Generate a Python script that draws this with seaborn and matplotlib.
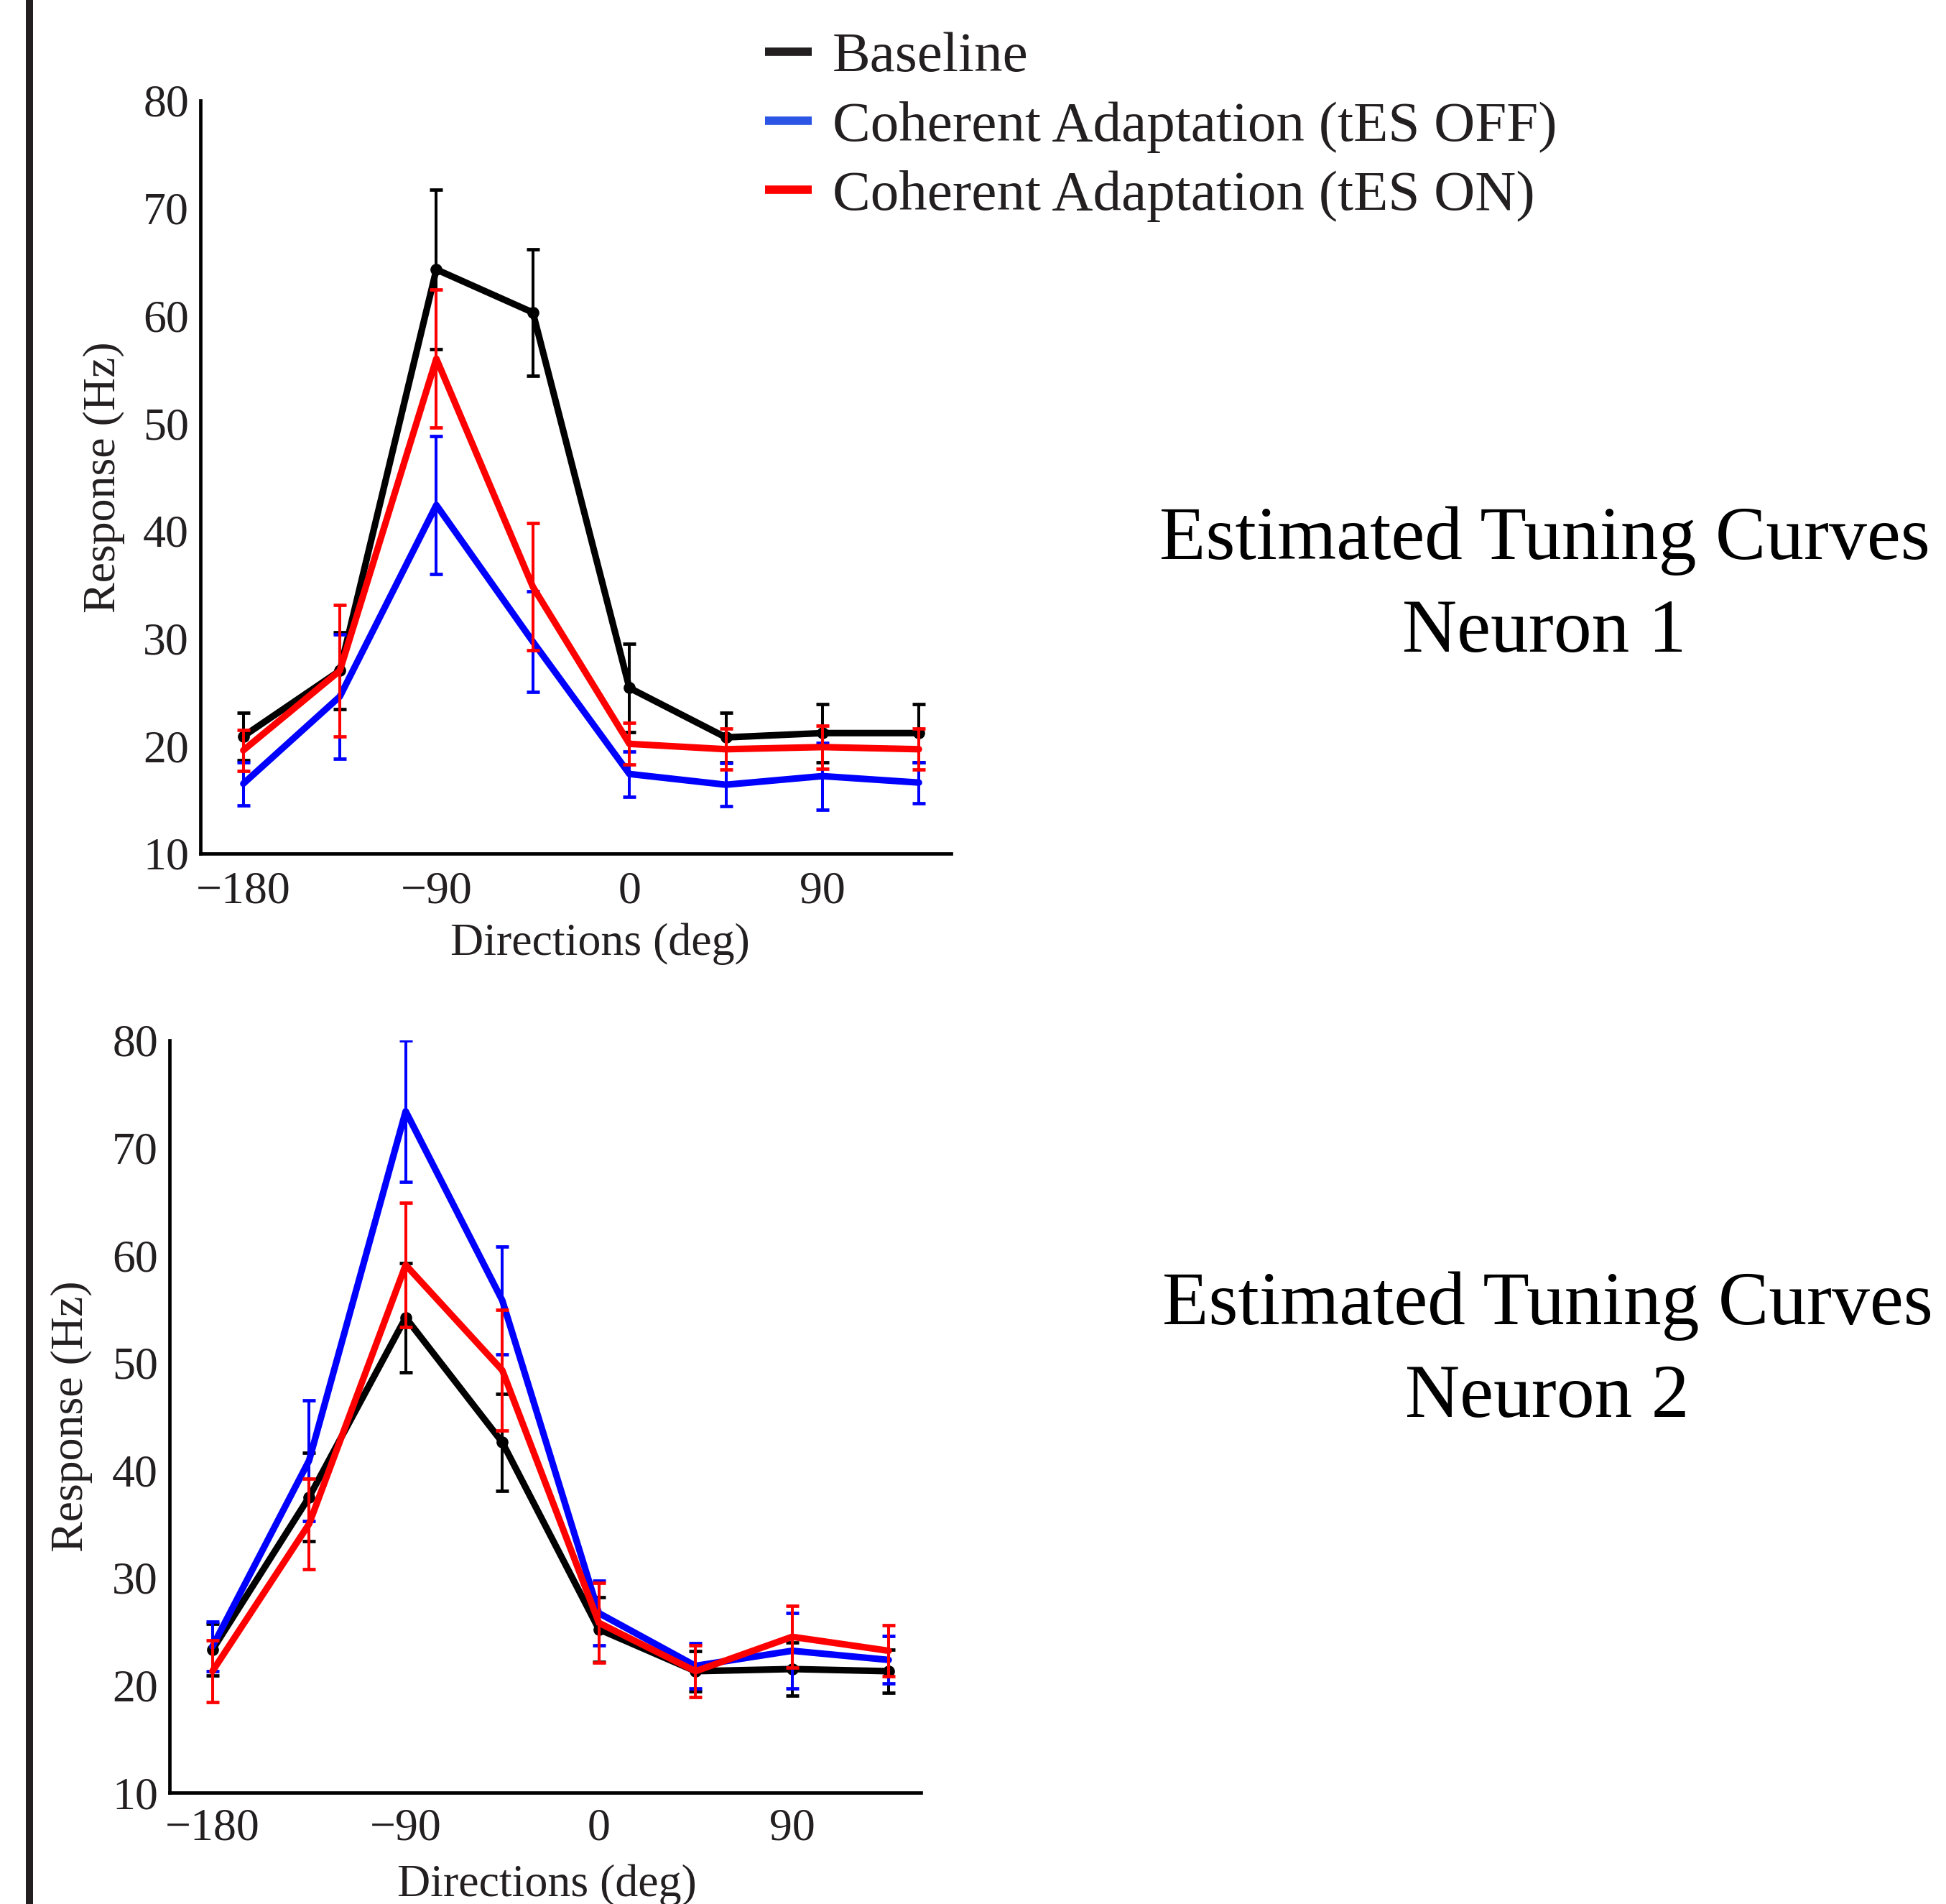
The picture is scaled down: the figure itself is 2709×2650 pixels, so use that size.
import numpy as np
import pandas as pd
import matplotlib
matplotlib.use("Agg")
import matplotlib.pyplot as plt
from matplotlib.lines import Line2D
import seaborn as sns

# ---------------- data ----------------
directions = [-180, -135, -90, -45, 0, 45, 90, 135]
xtick_labels = ["\u2212180", "", "\u221290", "", "0", "", "90", ""]
yticks = [10, 20, 30, 40, 50, 60, 70, 80]
conditions = ["Baseline", "Coherent Adaptation (tES OFF)", "Coherent Adaptation (tES ON)"]

# Neuron 1
n1_baseline = [20.9, 27.0, 64.3, 60.3, 25.4, 20.8, 21.2, 21.2]
n1_baseline_err = [2.2, 3.6, 7.4, 5.9, 4.1, 2.3, 2.7, 2.7]
n1_off = [16.5, 24.6, 42.4, 29.7, 17.4, 16.4, 17.2, 16.6]
n1_off_err = [2.0, 5.8, 6.4, 4.7, 2.1, 2.0, 3.1, 1.9]
n1_on = [19.6, 27.0, 56.0, 34.8, 20.2, 19.7, 19.9, 19.7]
n1_on_err = [1.9, 6.1, 6.4, 5.9, 1.95, 1.9, 2.0, 1.9]

# Neuron 2
n2_baseline = [23.3, 37.5, 54.2, 42.6, 25.2, 21.3, 21.5, 21.3]
n2_baseline_err = [2.4, 4.1, 5.1, 4.5, 3.0, 1.9, 2.5, 2.0]
n2_off = [23.6, 40.9, 73.4, 55.8, 26.7, 21.8, 23.2, 22.35]
n2_off_err = [2.3, 5.6, 6.6, 5.0, 3.0, 2.1, 3.5, 2.2]
n2_on = [21.3, 35.0, 59.1, 49.3, 25.8, 21.3, 24.5, 23.2]
n2_on_err = [2.9, 4.2, 5.8, 5.6, 3.7, 2.4, 2.85, 2.4]

titles = [("Estimated Tuning Curves", "Neuron 1"), ("Estimated Tuning Curves", "Neuron 2")]

# ---------------- style ----------------
sns.set_style("white")
plt.rcParams["font.family"] = ["Liberation Serif", "DejaVu Serif"]
TXT = "#231f20"
line_colors = ["#000000", "#0000ff", "#ff0000"]
legend_colors = ["#231f20", "#2b55e5", "#ff0000"]

W, H = 2709, 2650
fig = plt.figure(figsize=(W / 100, H / 100), dpi=100)
fig.patch.set_facecolor("white")

PX = 72 / 100  # points per pixel


def draw(ax, means, errs, xlabel_x, xlabel_y, ylabel_x, xpad):
    for i, (cond, m, e) in enumerate(zip(conditions, means, errs)):
        ax.errorbar(directions, m, yerr=e, fmt="none", ecolor=line_colors[i],
                    elinewidth=2.9, capsize=6.6, capthick=3.4, zorder=2 + 2 * i)
        df = pd.DataFrame({"Direction": directions, "Response": m})
        kw = {}
        if i == 0:
            kw = dict(marker="o", markersize=12, markeredgewidth=0)
        sns.lineplot(data=df, x="Direction", y="Response", ax=ax, color=line_colors[i],
                     linewidth=6.6, sort=False, errorbar=None, legend=False,
                     zorder=3 + 2 * i, **kw)
    ax.set_xlim(-200, 150)
    ax.set_ylim(10, 80)
    ax.set_xticks(directions)
    ax.set_xticklabels(xtick_labels)
    ax.set_yticks(yticks)
    ax.set_yticklabels([str(v) for v in yticks])
    for s in ["top", "right"]:
        ax.spines[s].set_visible(False)
    for s in ["left", "bottom"]:
        ax.spines[s].set_linewidth(3.4)
        ax.spines[s].set_color("black")
    ax.tick_params(axis="both", direction="in", length=6.5, width=3.3, colors="black",
                   labelsize=46, labelcolor=TXT)
    ax.tick_params(axis="x", pad=xpad)
    ax.tick_params(axis="y", pad=11.5)
    ax.set_xlabel("Directions (deg)", fontsize=46, color=TXT)
    ax.set_ylabel("Response (Hz)", fontsize=46, color=TXT)
    ax.xaxis.set_label_coords(xlabel_x, xlabel_y)
    ax.yaxis.set_label_coords(ylabel_x, 0.5)
    ax.set_facecolor("white")
    ax.grid(False)


ax1 = fig.add_axes([279 / W, 1 - 1188 / H, 1045 / W, 1048 / H])
draw(ax1, [n1_baseline, n1_off, n1_on], [n1_baseline_err, n1_off_err, n1_on_err],
     0.532, -0.0925, -0.1005, 17.5)

ax2 = fig.add_axes([236 / W, 1 - 2495 / H, 1046 / W, 1047 / H])
draw(ax2, [n2_baseline, n2_off, n2_on], [n2_baseline_err, n2_off_err, n2_on_err],
     0.502, -0.095, -0.102, 15.5)

# titles
for (l1, l2), (cx, b1, b2) in zip(titles, [(2150, 778, 907), (2154, 1843, 1972)]):
    fig.text(cx / W, 1 - b1 / H, l1, ha="center", va="baseline", fontsize=76, color="black")
    fig.text(cx / W, 1 - b2 / H, l2, ha="center", va="baseline", fontsize=76, color="black")

# legend
handles = [Line2D([], [], color=c, lw=8.4, solid_capstyle="butt") for c in legend_colors]
fig.legend(handles, conditions, loc="upper left", bbox_to_anchor=(1065 / W, 1 - 44 / H),
           frameon=False, fontsize=57, handlelength=0.82, handletextpad=0.37,
           labelspacing=0.30, borderpad=0, borderaxespad=0, labelcolor=TXT)

# left vertical bar
fig.add_artist(Line2D([41 / W, 41 / W], [0, 1], transform=fig.transFigure,
                      color="#231f20", lw=10 * PX, solid_capstyle="butt"))

fig.savefig("out.png", dpi=100, facecolor="white")
